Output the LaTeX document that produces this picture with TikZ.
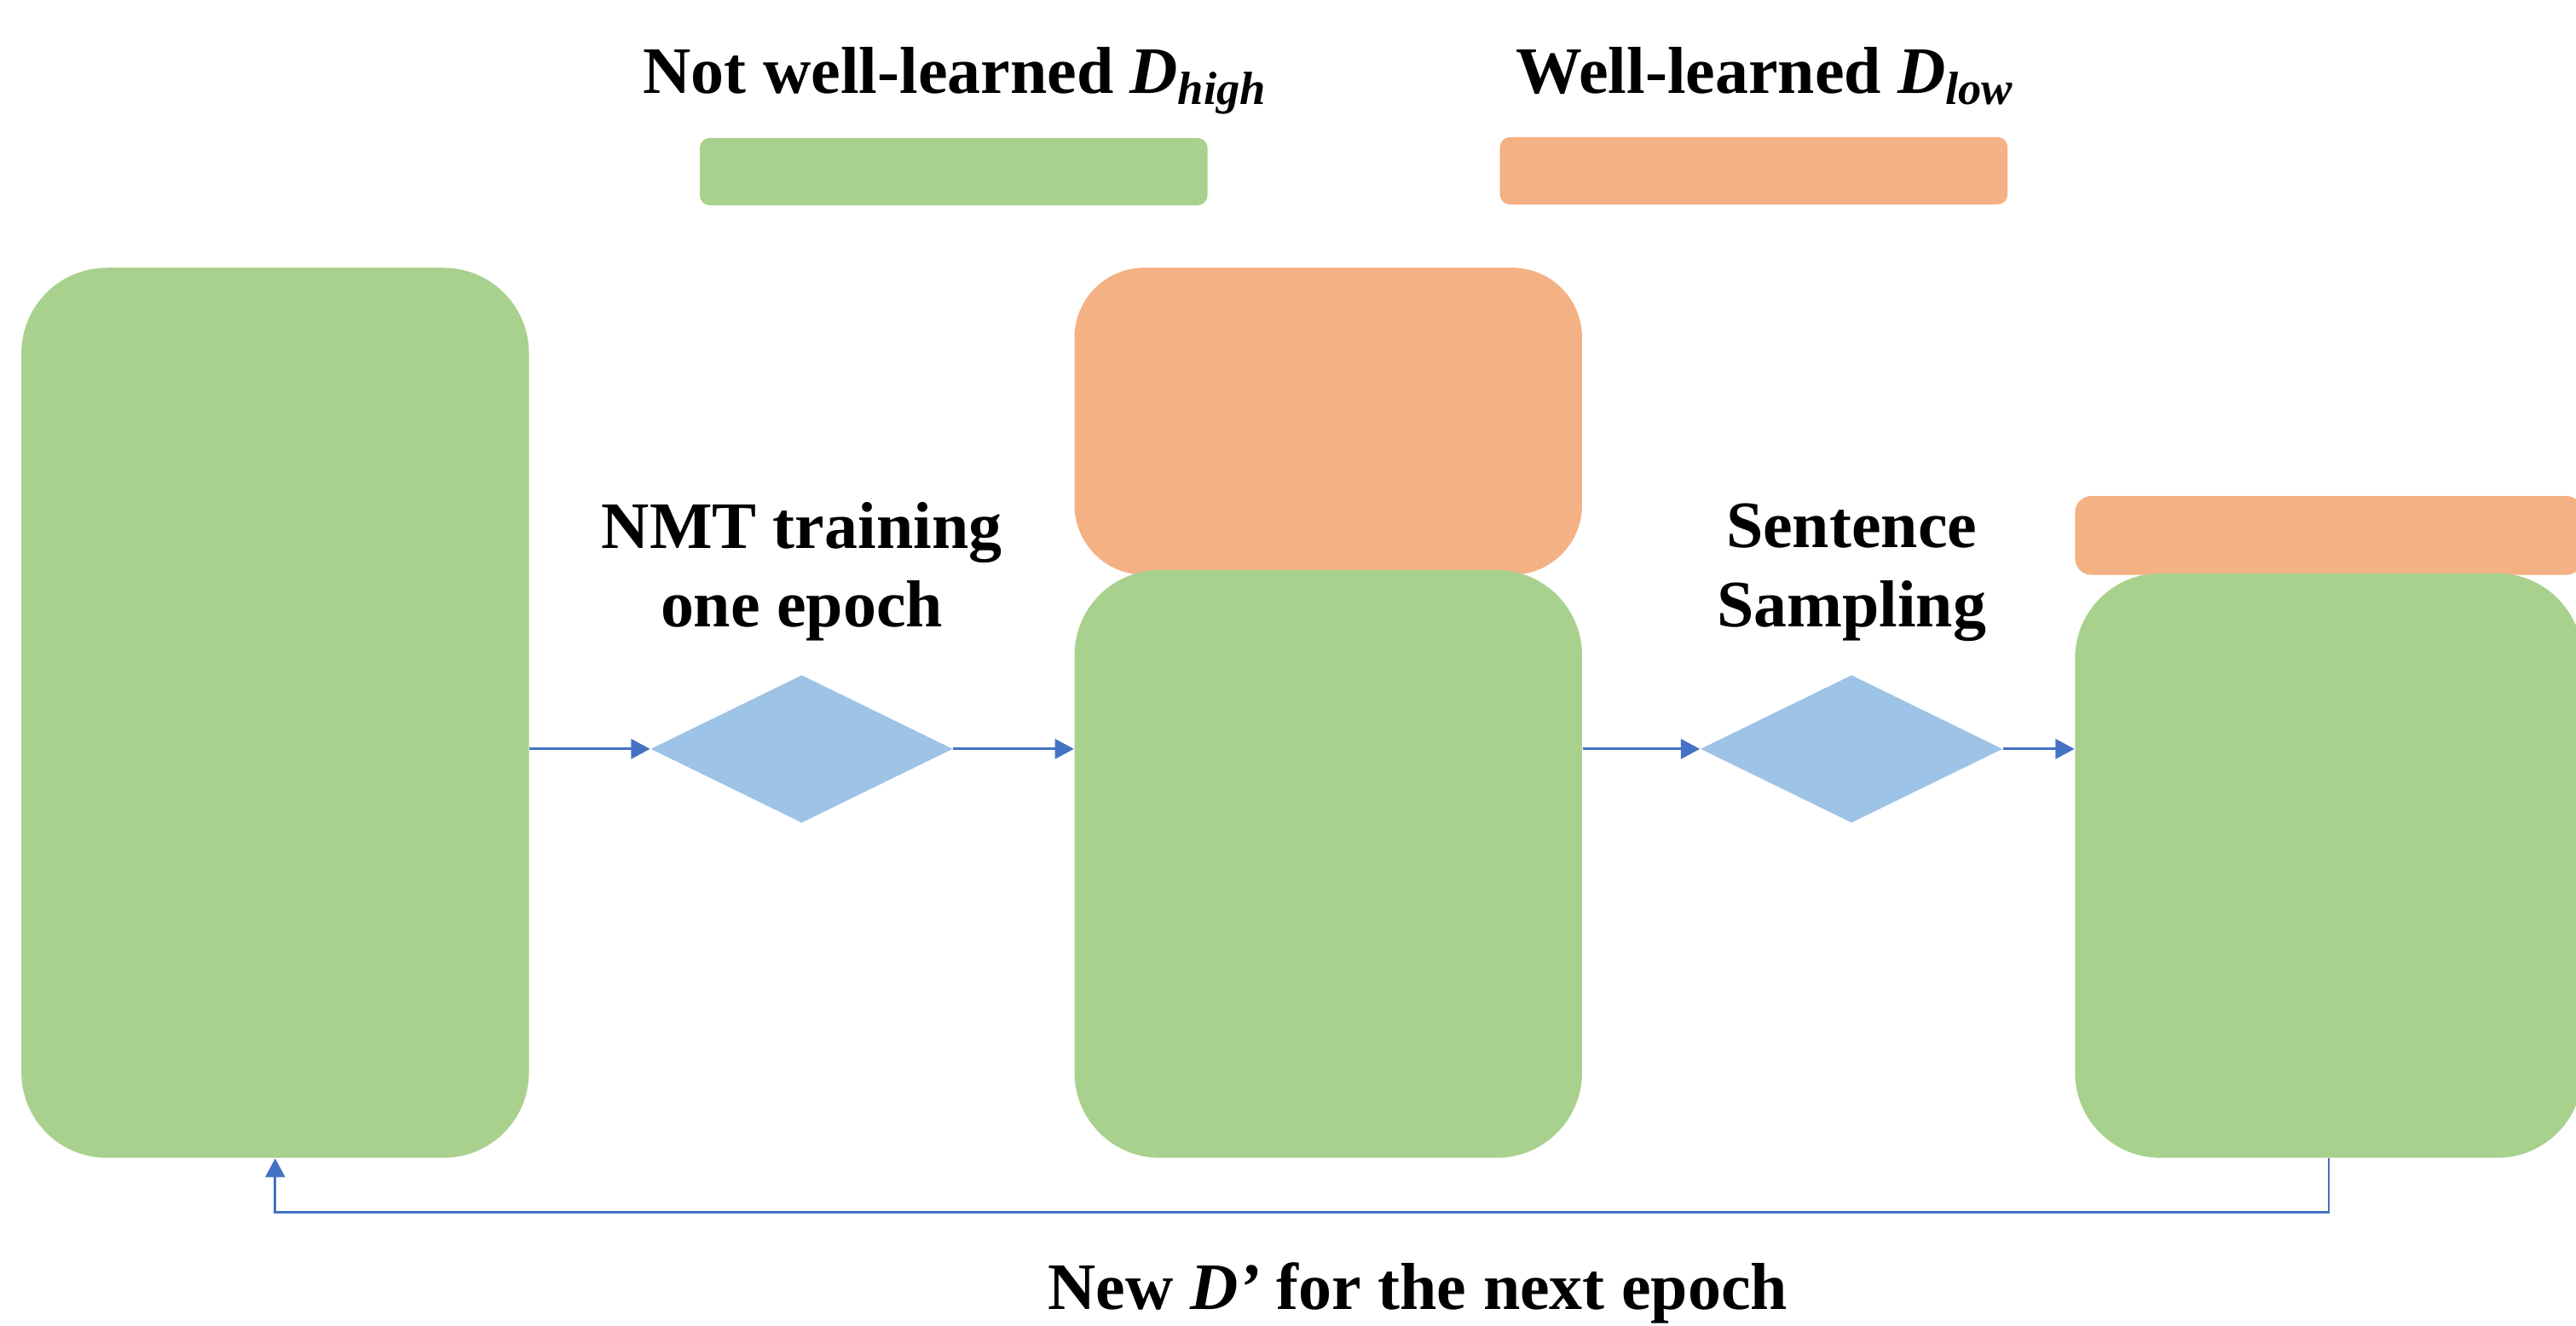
\documentclass[tikz,border=0pt]{standalone}
\usepackage{fontspec}
\setmainfont{Liberation Serif}
\usetikzlibrary{shapes.geometric,arrows.meta,positioning}
\definecolor{vert}{HTML}{A9D18E}
\definecolor{saumon}{HTML}{F4B183}
\definecolor{bleu}{HTML}{9DC3E6}
\definecolor{fleche}{HTML}{4472C4}

\begin{document}
\begin{tikzpicture}[x=0.02cm,y=-0.02cm]
\tikzset{
  bloc/.style={rectangle, inner sep=0pt, minimum width=6.18cm},
  haut/.style={bloc, fill=vert},
  bas/.style={bloc, fill=saumon},
  losange/.style={diamond, fill=bleu, inner sep=0pt, minimum width=3.68cm, minimum height=1.8cm},
  lien/.style={draw=fleche, line width=0.8pt, -{Triangle[length=2.3mm,width=2.4mm]}},
  titre/.style={font=\fontsize{23}{27.3}\selectfont\bfseries, align=center, inner sep=0pt},
}
 \useasboundingbox (0,0) rectangle (1568,807);

 % légende
  \node[haut, minimum height=0.82cm, rounded corners=0.12cm] (barhigh) at (580.5,104.5) {};
  \node[bas, minimum height=0.82cm, rounded corners=0.12cm] (barlow) at (1067.5,104) {};
  \node[titre, anchor=base] (labhigh) at (581.5,57) {Not well-learned \textit{D}\textsubscript{\textit{high}}};
  \node[titre, anchor=base] (lablow) at (1074.5,57) {Well-learned \textit{D}\textsubscript{\textit{low}}};

 % les trois jeux de données
  \node[haut, minimum height=10.84cm, rounded corners=1.04cm] (corpus) at (167.5,434) {};
  \node[bas, minimum height=3.74cm, rounded corners=0.85cm] (low1) at (808.5,256.5) {};
  \node[haut, minimum height=7.16cm, rounded corners=1.04cm] (high1) at (808.5,526) {};
  \node[bas, minimum height=0.96cm, rounded corners=0.2cm] (low2) at (1417.5,326) {};
  \node[haut, minimum height=7.12cm, rounded corners=1.04cm] (high2) at (1417.5,527) {};

 % étapes
  \node[losange] (train) at (488,456) {};
  \node[losange] (sample) at (1127,456) {};
  \node[titre, above=0.4cm of train] (labtrain) {NMT training\\one epoch};
  \node[titre, above=0.4cm of sample] (labsample) {Sentence\\Sampling};

 % flèches
  \draw[lien] (corpus.east |- train.west) -- (train.west);
  \draw[lien] (train.east) -- (train.east -| high1.west);
  \draw[lien] (high1.east |- sample.west) -- (sample.west);
  \draw[lien] (sample.east) -- (sample.east -| high2.west);

 % retour vers le début
  \coordinate (retour) at (0,738);
  \draw[lien] (high2.south) -- (high2.south |- retour) -| (corpus.south);
  \node[titre, anchor=base] (labnew) at (863,797) {New \textit{D’} for the next epoch};
\end{tikzpicture}
\end{document}
